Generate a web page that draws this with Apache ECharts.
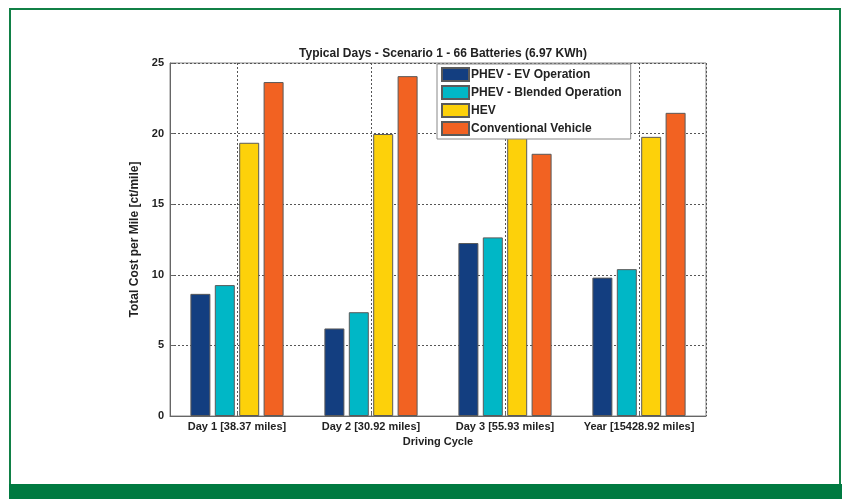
<!DOCTYPE html>
<html><head><meta charset="utf-8">
<script src="https://cdn.jsdelivr.net/npm/echarts@6/dist/echarts.min.js"></script>
<style>html,body{margin:0;padding:0;background:#fff}#c{width:845px;height:499px}</style>
</head><body><div id="c"></div>
<script>
const categories = ['Day 1 [38.37 miles]', 'Day 2 [30.92 miles]', 'Day 3 [55.93 miles]', 'Year [15428.92 miles]'];
const seriesNames = ['PHEV - EV Operation', 'PHEV - Blended Operation', 'HEV', 'Conventional Vehicle'];
const phevEV = [8.65, 6.2, 12.25, 9.8];
const phevBlended = [9.27, 7.35, 12.65, 10.4];
const hev = [19.35, 19.97, 19.97, 19.77];
const conventional = [23.65, 24.07, 18.57, 21.47];
const colors = ['#133e80', '#00b7c6', '#fdd10a', '#f26222'];
const yTicks = [0, 5, 10, 15, 20, 25];

const font = 'Liberation Sans, Arial, sans-serif';
const values = [phevEV, phevBlended, hev, conventional];
const chart = echarts.init(document.getElementById('c'), null, {renderer: 'canvas'});
const halfSlots = Array.from({length: categories.length * 2}, (_, i) => 's' + i);

chart.setOption({
  animation: false,
  backgroundColor: '#ffffff',
  title: {
    text: 'Typical Days - Scenario 1 - 66 Batteries (6.97 KWh)',
    left: 438, top: 43, textAlign: 'center',
    textStyle: {fontFamily: font, fontSize: 12, fontWeight: 'bold', color: '#222'}
  },
  legend: {
    orient: 'vertical', left: 437, top: 64,
    itemWidth: 27, itemHeight: 13, itemGap: 3,
    padding: [3, 9, 3, 4],
    icon: 'rect',
    borderColor: '#888', borderWidth: 1, backgroundColor: '#fff',
    textStyle: {fontFamily: font, fontSize: 12, fontWeight: 'bold', color: '#222', padding: [0, 0, 0, -3]},
    data: seriesNames
  },
  grid: {left: 170, top: 63, right: 139, bottom: 83, show: true, borderColor: '#888', borderWidth: 1, backgroundColor: 'transparent'},
  xAxis: [{
    type: 'category', data: categories,
    name: 'Driving Cycle', nameLocation: 'middle', nameGap: 19,
    nameTextStyle: {fontFamily: font, fontSize: 11, fontWeight: 'bold', color: '#222'},
    axisLine: {lineStyle: {color: '#666'}},
    axisTick: {show: true, inside: true, alignWithLabel: true, length: 4, lineStyle: {color: '#666'}},
    axisLabel: {interval: 0, fontFamily: font, fontSize: 11, fontWeight: 'bold', color: '#222', margin: 5},
    splitLine: {show: false}
  }, {
    type: 'category', data: halfSlots, position: 'bottom',
    axisLine: {show: false}, axisTick: {show: false}, axisLabel: {show: false},
    splitLine: {show: true, interval: (i) => i % 2 === 1, lineStyle: {color: '#555', type: [2, 2], width: 1}}
  }],
  yAxis: {
    type: 'value', min: 0, max: 25, interval: 5,
    name: 'Total Cost per Mile [ct/mile]', nameLocation: 'middle', nameGap: 21, nameRotate: 90,
    nameTextStyle: {fontFamily: font, fontSize: 12, fontWeight: 'bold', color: '#222'},
    axisLine: {show: true, lineStyle: {color: '#666'}},
    axisTick: {show: true, inside: true, length: 4, lineStyle: {color: '#666'}},
    axisLabel: {fontFamily: font, fontSize: 11, fontWeight: 'bold', color: '#222', margin: 6,
      formatter: (v) => yTicks.includes(v) ? String(v) : ''},
    splitLine: {show: true, lineStyle: {color: '#555', type: [2, 2], width: 1}}
  },
  series: seriesNames.map((name, k) => ({
    name, type: 'bar', data: values[k], xAxisIndex: 0,
    barWidth: 20, barGap: '22%',
    itemStyle: {color: colors[k], borderColor: '#5a5a5a', borderWidth: 1}
  })),
  graphic: [
    {type: 'rect', shape: {x: 10, y: 9, width: 830, height: 480}, style: {fill: 'none', stroke: '#118046', lineWidth: 2}, z: 100},
    {type: 'rect', shape: {x: 9, y: 484, width: 833, height: 15}, style: {fill: '#007a41'}, z: 101}
  ]
});
</script></body></html>
